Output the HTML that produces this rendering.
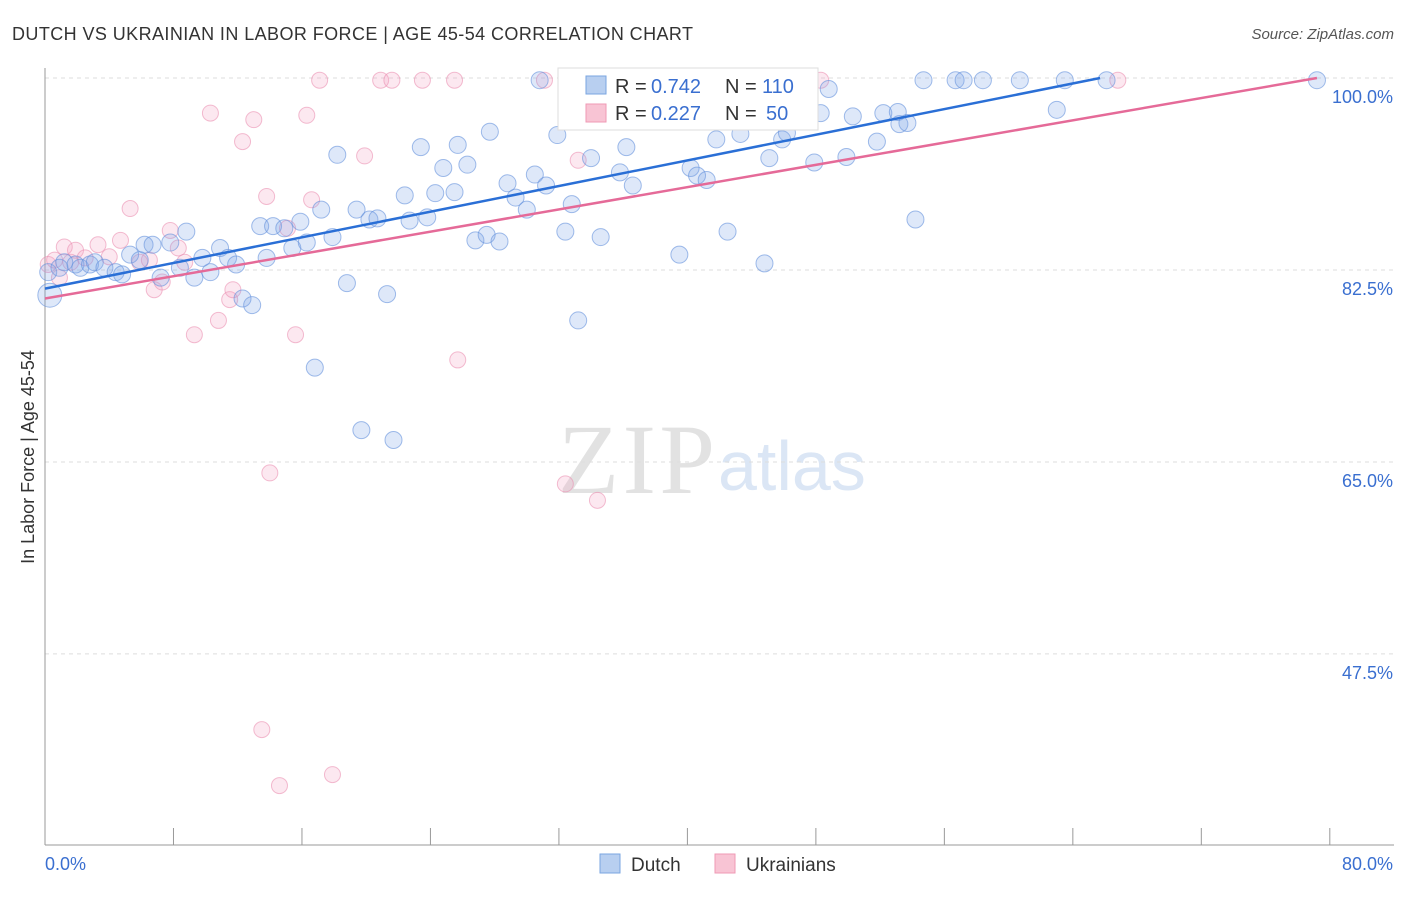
<!DOCTYPE html>
<html><head><meta charset="utf-8"><style>
body{margin:0;background:#fff;font-family:"Liberation Sans",sans-serif;}
</style></head><body>
<svg width="1406" height="892" id="chart" style="font-family:'Liberation Sans',sans-serif">
<text x="12" y="40" font-size="18" fill="#333" textLength="681">DUTCH VS UKRAINIAN IN LABOR FORCE | AGE 45-54 CORRELATION CHART</text>
<text x="1394" y="39" font-size="15" fill="#555" font-style="italic" text-anchor="end">Source: ZipAtlas.com</text>
<text x="558" y="493" font-size="100" fill="#e2e2e2" style="font-family:'Liberation Serif',serif" textLength="157">ZIP</text>
<text x="718" y="490" font-size="70" fill="#dbe6f5">atlas</text>
<g id="grid"></g>
<g id="axes"></g>
<g id="pts"></g>
<g id="trends"></g>
<text transform="translate(34,457) rotate(-90)" font-size="18" fill="#333" text-anchor="middle">In Labor Force | Age 45-54</text>
<g>
<rect x="558" y="68" width="260" height="62" fill="#fff" stroke="#ddd"/>
<rect x="586" y="76" width="20" height="18" fill="#b8cff0" stroke="#7aa6e0"/>
<text x="615" y="93" font-size="20" fill="#333">R =</text>
<text x="651" y="93" font-size="20" fill="#3a6fd0">0.742</text>
<text x="725" y="93" font-size="20" fill="#333">N =</text>
<text x="762" y="93" font-size="20" fill="#3a6fd0">110</text>
<rect x="586" y="104" width="20" height="18" fill="#f8c4d4" stroke="#ef9ab5"/>
<text x="615" y="120" font-size="20" fill="#333">R =</text>
<text x="651" y="120" font-size="20" fill="#3a6fd0">0.227</text>
<text x="725" y="120" font-size="20" fill="#333">N =</text>
<text x="766" y="120" font-size="20" fill="#3a6fd0">50</text>
</g>
<g>
<rect x="600" y="854" width="20" height="19" fill="#b8cff0" stroke="#7aa6e0"/>
<text x="631" y="871" font-size="19" fill="#333">Dutch</text>
<rect x="715" y="854" width="20" height="19" fill="#f8c4d4" stroke="#ef9ab5"/>
<text x="746" y="871" font-size="19" fill="#333">Ukrainians</text>
</g>
</svg>
<script>
const yTicks=[100,82.5,65,47.5];
const yTickLabels=["100.0%","82.5%","65.0%","47.5%"];
const xTicks=[0,8,16,24,32,40,48,56,64,72,80];
const xEndLabels=["0.0%","80.0%"];
const dutchX=[0.3,0.2,0.9,1.2,1.9,2.2,2.8,3.1,3.7,4.4,4.8,5.3,5.9,6.2,6.7,7.2,7.8,8.4,8.8,9.3,9.8,10.3,10.9,11.4,11.9,12.3,12.9,13.4,13.8,14.2,14.9,15.4,15.9,16.3,16.8,17.2,17.9,18.2,18.8,19.4,19.7,20.2,20.7,21.3,21.7,22.4,22.7,23.4,23.8,24.3,24.8,25.5,25.7,26.3,26.8,27.5,27.7,28.3,28.8,29.3,30.0,30.5,30.8,31.2,31.9,32.4,32.8,33.2,34.0,34.6,35.8,36.2,36.6,37.2,39.5,40.2,40.6,41.2,41.8,42.5,43.3,43.8,44.8,45.1,45.9,46.2,47.9,48.3,48.8,49.9,50.3,51.8,52.2,53.1,53.2,53.7,54.2,54.7,56.7,57.2,58.4,60.7,63.0,63.5,66.1,79.2];
const dutchY=[80.2,82.3,82.7,83.2,83.0,82.7,83.0,83.2,82.7,82.3,82.1,83.9,83.4,84.8,84.8,81.8,85.0,82.7,86.0,81.8,83.6,82.3,84.5,83.6,83.0,79.9,79.3,86.5,83.6,86.5,86.3,84.5,86.9,85.0,73.6,88.0,85.5,93.0,81.3,88.0,67.9,87.1,87.2,80.3,67.0,89.3,87.0,93.7,87.3,89.5,91.8,89.6,93.9,92.1,85.2,85.7,95.1,85.1,90.4,89.1,88.0,91.2,99.8,90.2,94.8,86.0,88.5,77.9,92.7,85.5,91.4,93.7,90.2,99.8,83.9,91.8,91.1,90.7,94.4,86.0,94.9,99.8,83.1,92.7,94.4,95.0,92.3,96.8,99.0,92.8,96.5,94.2,96.8,96.9,95.8,95.9,87.1,99.8,99.8,99.8,99.8,99.8,97.1,99.8,99.8,99.8];
const ukrX=[0.2,0.6,0.9,1.2,1.6,1.9,2.5,3.3,4.0,4.7,5.3,5.9,6.5,6.8,7.3,7.8,8.3,8.7,9.3,10.3,10.8,11.5,11.7,12.3,13.0,13.8,14.0,13.5,14.6,15.1,15.6,16.3,16.6,17.1,17.9,19.9,20.9,21.6,23.5,25.5,25.7,31.1,32.4,33.2,34.4,47.5,48.3,66.8];
const ukrY=[83.0,83.4,81.8,84.6,83.2,84.3,83.6,84.8,83.7,85.2,88.1,83.2,83.4,80.7,81.4,86.1,84.5,83.2,76.6,96.8,77.9,79.8,80.7,94.2,96.2,89.2,64.0,40.6,35.5,86.3,76.6,96.6,88.9,99.8,36.5,92.9,99.8,99.8,99.8,99.8,74.3,99.8,63.0,92.5,61.5,99.8,99.8,99.8];
const dutchTrend=[[0,80.8],[65.7,100]];
const ukrTrend=[[0,79.9],[79.2,100]];

const NS="http://www.w3.org/2000/svg";
const X=v=>45+v*16.06;
const Y=v=>78+(100-v)*10.97;
function mk(tag,attrs,parent){const e=document.createElementNS(NS,tag);for(const k in attrs)e.setAttribute(k,attrs[k]);parent.appendChild(e);return e;}
const grid=document.getElementById('grid'),axes=document.getElementById('axes'),pts=document.getElementById('pts'),tr=document.getElementById('trends');
yTicks.forEach((t,i)=>{
  const l=mk('line',{x1:45,x2:1394,y1:Y(t),y2:Y(t),stroke:'#ddd','stroke-dasharray':'4,4'},grid);
  
  
  const tx=mk('text',{x:1393,y:Y(t)+25,'font-size':18,fill:'#3a6fd0','text-anchor':'end'},grid);
  tx.textContent=yTickLabels[i];
  
  
});
mk('line',{x1:45,x2:1394,y1:78,y2:78,stroke:'#ddd','stroke-dasharray':'4,4'},grid);
const ya=mk('line',{x1:45,x2:45,y1:68,y2:845,stroke:'#999'},axes);


const xa=mk('line',{x1:45,x2:1394,y1:845,y2:845,stroke:'#999'},axes);


xTicks.forEach(t=>{
  const l=mk('line',{x1:X(t),x2:X(t),y1:828,y2:845,stroke:'#999'},axes);
  
  
});
const xl0=mk('text',{x:45,y:870,'font-size':18,fill:'#3a6fd0'},axes);xl0.textContent=xEndLabels[0];


const xl1=mk('text',{x:1393,y:870,'font-size':18,fill:'#3a6fd0','text-anchor':'end'},axes);xl1.textContent=xEndLabels[1];


ukrX.forEach((v,i)=>{
  const c=mk('circle',{cx:X(v),cy:Y(ukrY[i]),r:8,fill:'rgba(245,165,195,0.25)',stroke:'rgba(235,145,178,0.6)'},pts);
  
  
});
dutchX.forEach((v,i)=>{
  const c=mk('circle',{cx:X(v),cy:Y(dutchY[i]),r:i===0?12:8.5,fill:'rgba(125,165,232,0.25)',stroke:'rgba(100,145,220,0.6)'},pts);
  
  
});
const t1=mk('line',{x1:X(dutchTrend[0][0]),y1:Y(dutchTrend[0][1]),x2:X(dutchTrend[1][0]),y2:Y(dutchTrend[1][1]),stroke:'#2a6fd6','stroke-width':2.5},tr);


const t2=mk('line',{x1:X(ukrTrend[0][0]),y1:Y(ukrTrend[0][1]),x2:X(ukrTrend[1][0]),y2:Y(ukrTrend[1][1]),stroke:'#e56a98','stroke-width':2.5},tr);


</script>
</body></html>
